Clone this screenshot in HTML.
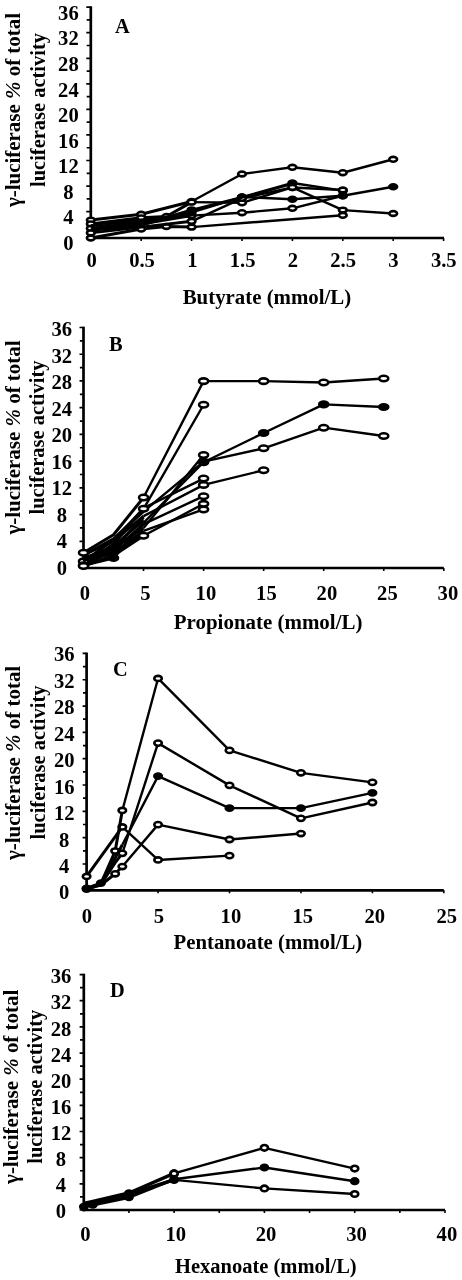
<!DOCTYPE html>
<html><head><meta charset="utf-8"><title>Figure</title>
<style>html,body{margin:0;padding:0;background:#fff}svg{display:block;filter:grayscale(1)}text{font-family:'Liberation Serif',serif;font-weight:bold;fill:#000}</style>
</head><body>
<svg width="462" height="1280" viewBox="0 0 462 1280">
<rect width="462" height="1280" fill="#fff"/>
<g id="panelA">
<path d="M90.8 6.31V239.35" stroke="#000" stroke-width="2.7" fill="none"/>
<path d="M89.45 238H444" stroke="#000" stroke-width="2.7" fill="none"/>
<path d="M86.3 237.2H90.8M86.7 224.42H90.8M86.3 211.64H90.8M86.7 198.86H90.8M86.3 186.08H90.8M86.7 173.3H90.8M86.3 160.52H90.8M86.7 147.74H90.8M86.3 134.96H90.8M86.7 122.18H90.8M86.3 109.4H90.8M86.7 96.62H90.8M86.3 83.84H90.8M86.7 71.06H90.8M86.3 58.28H90.8M86.7 45.5H90.8M86.3 32.72H90.8M86.7 19.94H90.8M86.3 7.16H90.8" stroke="#000" stroke-width="1.7" fill="none"/>
<path d="M141.2 238V240.9M191.6 238V240.9M242 238V240.9M292.4 238V240.9M342.8 238V240.9M393.2 238V240.9M443.6 238V240.9" stroke="#000" stroke-width="1.6" fill="none"/>
<text x="68.4" y="249.8" text-anchor="middle" font-size="20.6">0</text>
<text x="68.4" y="224.26" text-anchor="middle" font-size="20.6">4</text>
<text x="68.4" y="198.71" text-anchor="middle" font-size="20.6">8</text>
<text x="68.4" y="173.17" text-anchor="middle" font-size="20.6">12</text>
<text x="68.4" y="147.62" text-anchor="middle" font-size="20.6">16</text>
<text x="68.4" y="122.08" text-anchor="middle" font-size="20.6">20</text>
<text x="68.4" y="96.54" text-anchor="middle" font-size="20.6">24</text>
<text x="68.4" y="70.99" text-anchor="middle" font-size="20.6">28</text>
<text x="68.4" y="45.45" text-anchor="middle" font-size="20.6">32</text>
<text x="68.4" y="19.9" text-anchor="middle" font-size="20.6">36</text>
<text x="91.7" y="266.8" text-anchor="middle" font-size="20.6">0</text>
<text x="142" y="266.8" text-anchor="middle" font-size="20.6">0.5</text>
<text x="192.3" y="266.8" text-anchor="middle" font-size="20.6">1</text>
<text x="242.6" y="266.8" text-anchor="middle" font-size="20.6">1.5</text>
<text x="292.9" y="266.8" text-anchor="middle" font-size="20.6">2</text>
<text x="343.2" y="266.8" text-anchor="middle" font-size="20.6">2.5</text>
<text x="393.5" y="266.8" text-anchor="middle" font-size="20.6">3</text>
<text x="443.8" y="266.8" text-anchor="middle" font-size="20.6">3.5</text>
<text x="115" y="32.5" font-size="20.4">A</text>
<text x="182.7" y="303.8" font-size="20.8" textLength="168.5" lengthAdjust="spacingAndGlyphs">Butyrate (mmol/L)</text>
<text transform="translate(19.7 207.1) rotate(-90)" font-size="20.4" textLength="194.2" lengthAdjust="spacingAndGlyphs">γ-luciferase <tspan font-style="italic">%</tspan> of total</text>
<text transform="translate(45.2 187.0) rotate(-90)" font-size="20.4" textLength="154" lengthAdjust="spacingAndGlyphs">luciferase activity</text>
<path d="M90.8 220.08L141.2 214.32L191.6 201.52" stroke="#000" stroke-width="3.0" fill="none" stroke-linejoin="round"/>
<path d="M191.6 201.52L242 174L292.4 167.28L342.8 172.72L393.2 159.28" stroke="#000" stroke-width="2.4" fill="none" stroke-linejoin="round"/>
<ellipse cx="90.8" cy="220.08" rx="3.9" ry="2.4" fill="#fff" stroke="#000" stroke-width="2.6"/>
<ellipse cx="141.2" cy="214.32" rx="3.9" ry="2.4" fill="#fff" stroke="#000" stroke-width="2.6"/>
<ellipse cx="191.6" cy="201.52" rx="3.9" ry="2.4" fill="#fff" stroke="#000" stroke-width="2.6"/>
<ellipse cx="242" cy="174" rx="3.9" ry="2.4" fill="#fff" stroke="#000" stroke-width="2.6"/>
<ellipse cx="292.4" cy="167.28" rx="3.9" ry="2.4" fill="#fff" stroke="#000" stroke-width="2.6"/>
<ellipse cx="342.8" cy="172.72" rx="3.9" ry="2.4" fill="#fff" stroke="#000" stroke-width="2.6"/>
<ellipse cx="393.2" cy="159.28" rx="3.9" ry="2.4" fill="#fff" stroke="#000" stroke-width="2.6"/>
<path d="M90.8 223.92L141.2 217.84L166.4 216.56L191.6 202.16" stroke="#000" stroke-width="3.0" fill="none" stroke-linejoin="round"/>
<path d="M191.6 202.16L242 202.8L292.4 187.44L342.8 210.1L393.2 213.49" stroke="#000" stroke-width="2.4" fill="none" stroke-linejoin="round"/>
<ellipse cx="90.8" cy="223.92" rx="3.9" ry="2.4" fill="#fff" stroke="#000" stroke-width="2.6"/>
<ellipse cx="141.2" cy="217.84" rx="3.9" ry="2.4" fill="#fff" stroke="#000" stroke-width="2.6"/>
<ellipse cx="166.4" cy="216.56" rx="3.9" ry="2.4" fill="#fff" stroke="#000" stroke-width="2.6"/>
<ellipse cx="191.6" cy="202.16" rx="3.9" ry="2.4" fill="#fff" stroke="#000" stroke-width="2.6"/>
<ellipse cx="242" cy="202.8" rx="3.9" ry="2.4" fill="#fff" stroke="#000" stroke-width="2.6"/>
<ellipse cx="292.4" cy="187.44" rx="3.9" ry="2.4" fill="#fff" stroke="#000" stroke-width="2.6"/>
<ellipse cx="342.8" cy="210.1" rx="3.9" ry="2.4" fill="#fff" stroke="#000" stroke-width="2.6"/>
<ellipse cx="393.2" cy="213.49" rx="3.9" ry="2.4" fill="#fff" stroke="#000" stroke-width="2.6"/>
<path d="M90.8 228.4L141.2 223.92L191.6 215.6" stroke="#000" stroke-width="3.0" fill="none" stroke-linejoin="round"/>
<path d="M191.6 215.6L242 212.72L292.4 208.3L342.8 195.76" stroke="#000" stroke-width="2.4" fill="none" stroke-linejoin="round"/>
<ellipse cx="90.8" cy="228.4" rx="3.9" ry="2.4" fill="#fff" stroke="#000" stroke-width="2.6"/>
<ellipse cx="191.6" cy="215.6" rx="3.9" ry="2.4" fill="#fff" stroke="#000" stroke-width="2.6"/>
<ellipse cx="242" cy="212.72" rx="3.9" ry="2.4" fill="#fff" stroke="#000" stroke-width="2.6"/>
<ellipse cx="292.4" cy="208.3" rx="3.9" ry="2.4" fill="#fff" stroke="#000" stroke-width="2.6"/>
<ellipse cx="342.8" cy="195.76" rx="3.9" ry="2.4" fill="#fff" stroke="#000" stroke-width="2.6"/>
<path d="M90.8 238L141.2 229.04L166.4 226.48L191.6 227.12" stroke="#000" stroke-width="3.0" fill="none" stroke-linejoin="round"/>
<path d="M191.6 227.12L342.8 215.28" stroke="#000" stroke-width="2.4" fill="none" stroke-linejoin="round"/>
<ellipse cx="90.8" cy="238" rx="3.9" ry="2.4" fill="#fff" stroke="#000" stroke-width="2.6"/>
<ellipse cx="141.2" cy="229.04" rx="3.9" ry="2.4" fill="#fff" stroke="#000" stroke-width="2.6"/>
<ellipse cx="166.4" cy="226.48" rx="3.9" ry="2.4" fill="#fff" stroke="#000" stroke-width="2.6"/>
<ellipse cx="191.6" cy="227.12" rx="3.9" ry="2.4" fill="#fff" stroke="#000" stroke-width="2.6"/>
<ellipse cx="342.8" cy="215.28" rx="3.9" ry="2.4" fill="#fff" stroke="#000" stroke-width="2.6"/>
<path d="M90.8 228.4L141.2 222L191.6 212.4" stroke="#000" stroke-width="3.0" fill="none" stroke-linejoin="round"/>
<path d="M191.6 212.4L242 197.04L292.4 182.96L342.8 190.64" stroke="#000" stroke-width="2.4" fill="none" stroke-linejoin="round"/>
<ellipse cx="191.6" cy="212.4" rx="3.9" ry="2.4" fill="#000" stroke="#000" stroke-width="2.6"/>
<ellipse cx="242" cy="197.04" rx="3.9" ry="2.4" fill="#000" stroke="#000" stroke-width="2.6"/>
<ellipse cx="292.4" cy="182.96" rx="3.9" ry="2.4" fill="#000" stroke="#000" stroke-width="2.6"/>
<ellipse cx="342.8" cy="190.64" rx="3.9" ry="2.4" fill="#000" stroke="#000" stroke-width="2.6"/>
<path d="M90.8 230.32L141.2 225.2L191.6 209.84" stroke="#000" stroke-width="3.0" fill="none" stroke-linejoin="round"/>
<path d="M191.6 209.84L242 197.04L292.4 199.22L342.8 195.76L393.2 186.8" stroke="#000" stroke-width="2.4" fill="none" stroke-linejoin="round"/>
<ellipse cx="191.6" cy="209.84" rx="3.9" ry="2.4" fill="#000" stroke="#000" stroke-width="2.6"/>
<ellipse cx="242" cy="197.04" rx="3.9" ry="2.4" fill="#000" stroke="#000" stroke-width="2.6"/>
<ellipse cx="292.4" cy="199.22" rx="3.9" ry="2.4" fill="#000" stroke="#000" stroke-width="2.6"/>
<ellipse cx="342.8" cy="195.76" rx="3.9" ry="2.4" fill="#000" stroke="#000" stroke-width="2.6"/>
<ellipse cx="393.2" cy="186.8" rx="3.9" ry="2.4" fill="#000" stroke="#000" stroke-width="2.6"/>
<path d="M90.8 232.88L141.2 227.12L191.6 221.36" stroke="#000" stroke-width="3.0" fill="none" stroke-linejoin="round"/>
<path d="M191.6 221.36L242 198.32L292.4 187.44L342.8 190" stroke="#000" stroke-width="2.4" fill="none" stroke-linejoin="round"/>
<ellipse cx="90.8" cy="232.88" rx="3.9" ry="2.4" fill="#fff" stroke="#000" stroke-width="2.6"/>
<ellipse cx="191.6" cy="221.36" rx="3.9" ry="2.4" fill="#fff" stroke="#000" stroke-width="2.6"/>
<ellipse cx="242" cy="198.32" rx="3.9" ry="2.4" fill="#fff" stroke="#000" stroke-width="2.6"/>
<ellipse cx="292.4" cy="187.44" rx="3.9" ry="2.4" fill="#fff" stroke="#000" stroke-width="2.6"/>
<ellipse cx="342.8" cy="190" rx="3.9" ry="2.4" fill="#fff" stroke="#000" stroke-width="2.6"/>
<path d="M90.8 225.84L141.2 220.08L166.4 218.8L191.6 214.96" stroke="#000" stroke-width="3.0" fill="none" stroke-linejoin="round"/>
<path d="M191.6 211.12" stroke="#000" stroke-width="3.0" fill="none" stroke-linejoin="round"/>
<path d="M191.6 211.12L242 197.68L292.4 183.92" stroke="#000" stroke-width="2.4" fill="none" stroke-linejoin="round"/>
</g>
<g id="panelB">
<path d="M83.5 326.67V569.35" stroke="#000" stroke-width="2.7" fill="none"/>
<path d="M82.15 568H443.8" stroke="#000" stroke-width="2.7" fill="none"/>
<path d="M79.5 568H83.5M79.9 554.64H83.5M79.5 541.28H83.5M79.9 527.92H83.5M79.5 514.56H83.5M79.9 501.2H83.5M79.5 487.84H83.5M79.9 474.48H83.5M79.5 461.12H83.5M79.9 447.76H83.5M79.5 434.4H83.5M79.9 421.04H83.5M79.5 407.68H83.5M79.9 394.32H83.5M79.5 380.96H83.5M79.9 367.6H83.5M79.5 354.24H83.5M79.9 340.88H83.5M79.5 327.52H83.5" stroke="#000" stroke-width="1.7" fill="none"/>
<path d="M143.55 568V570.9M203.6 568V570.9M263.65 568V570.9M323.7 568V570.9M383.75 568V570.9M443.8 568V570.9" stroke="#000" stroke-width="1.6" fill="none"/>
<text x="61.8" y="575" text-anchor="middle" font-size="20.6">0</text>
<text x="61.8" y="548.44" text-anchor="middle" font-size="20.6">4</text>
<text x="61.8" y="521.88" text-anchor="middle" font-size="20.6">8</text>
<text x="61.8" y="495.32" text-anchor="middle" font-size="20.6">12</text>
<text x="61.8" y="468.76" text-anchor="middle" font-size="20.6">16</text>
<text x="61.8" y="442.2" text-anchor="middle" font-size="20.6">20</text>
<text x="61.8" y="415.64" text-anchor="middle" font-size="20.6">24</text>
<text x="61.8" y="389.08" text-anchor="middle" font-size="20.6">28</text>
<text x="61.8" y="362.52" text-anchor="middle" font-size="20.6">32</text>
<text x="61.8" y="335.96" text-anchor="middle" font-size="20.6">36</text>
<text x="84.9" y="599.8" text-anchor="middle" font-size="20.6">0</text>
<text x="145.4" y="599.8" text-anchor="middle" font-size="20.6">5</text>
<text x="205.9" y="599.8" text-anchor="middle" font-size="20.6">10</text>
<text x="266.4" y="599.8" text-anchor="middle" font-size="20.6">15</text>
<text x="326.9" y="599.8" text-anchor="middle" font-size="20.6">20</text>
<text x="387.4" y="599.8" text-anchor="middle" font-size="20.6">25</text>
<text x="447.9" y="599.8" text-anchor="middle" font-size="20.6">30</text>
<text x="109" y="350.7" font-size="20.4">B</text>
<text x="173.8" y="628.6" font-size="20.8" textLength="188.6" lengthAdjust="spacingAndGlyphs">Propionate (mmol/L)</text>
<text transform="translate(19.7 534.6) rotate(-90)" font-size="20.4" textLength="194.2" lengthAdjust="spacingAndGlyphs">γ-luciferase <tspan font-style="italic">%</tspan> of total</text>
<text transform="translate(44.3 514.5) rotate(-90)" font-size="20.4" textLength="154" lengthAdjust="spacingAndGlyphs">luciferase activity</text>
<path d="M83.5 558.02L113.53 548.05L143.55 528.1" stroke="#000" stroke-width="3.0" fill="none" stroke-linejoin="round"/>
<path d="M143.55 528.1L203.6 454.95" stroke="#000" stroke-width="2.4" fill="none" stroke-linejoin="round"/>
<ellipse cx="203.6" cy="454.95" rx="4.5" ry="2.75" fill="#fff" stroke="#000" stroke-width="2.6"/>
<path d="M83.5 555.37L113.53 538.74L143.55 511.48" stroke="#000" stroke-width="3.0" fill="none" stroke-linejoin="round"/>
<path d="M143.55 511.48L203.6 461.6L263.65 448.3L323.7 427.68L383.75 436" stroke="#000" stroke-width="2.4" fill="none" stroke-linejoin="round"/>
<ellipse cx="203.6" cy="461.6" rx="4.5" ry="2.75" fill="#fff" stroke="#000" stroke-width="2.6"/>
<ellipse cx="263.65" cy="448.3" rx="4.5" ry="2.75" fill="#fff" stroke="#000" stroke-width="2.6"/>
<ellipse cx="323.7" cy="427.68" rx="4.5" ry="2.75" fill="#fff" stroke="#000" stroke-width="2.6"/>
<ellipse cx="383.75" cy="436" rx="4.5" ry="2.75" fill="#fff" stroke="#000" stroke-width="2.6"/>
<path d="M83.5 554.7L113.53 541.4L143.55 516.13" stroke="#000" stroke-width="3.0" fill="none" stroke-linejoin="round"/>
<path d="M143.55 516.13L203.6 484.88L263.65 470.25" stroke="#000" stroke-width="2.4" fill="none" stroke-linejoin="round"/>
<ellipse cx="203.6" cy="484.88" rx="4.5" ry="2.75" fill="#fff" stroke="#000" stroke-width="2.6"/>
<ellipse cx="263.65" cy="470.25" rx="4.5" ry="2.75" fill="#fff" stroke="#000" stroke-width="2.6"/>
<path d="M83.5 564.01L113.53 544.06L143.55 508.15" stroke="#000" stroke-width="3.0" fill="none" stroke-linejoin="round"/>
<path d="M143.55 508.15L203.6 478.56" stroke="#000" stroke-width="2.4" fill="none" stroke-linejoin="round"/>
<ellipse cx="203.6" cy="478.56" rx="4.5" ry="2.75" fill="#fff" stroke="#000" stroke-width="2.6"/>
<path d="M83.5 564.67L113.53 550.71L143.55 524.11" stroke="#000" stroke-width="3.0" fill="none" stroke-linejoin="round"/>
<path d="M143.55 524.11L203.6 496.18" stroke="#000" stroke-width="2.4" fill="none" stroke-linejoin="round"/>
<ellipse cx="203.6" cy="496.18" rx="4.5" ry="2.75" fill="#fff" stroke="#000" stroke-width="2.6"/>
<path d="M83.5 561.35L113.53 553.37L143.55 530.76" stroke="#000" stroke-width="3.0" fill="none" stroke-linejoin="round"/>
<path d="M143.55 530.76L203.6 509.48" stroke="#000" stroke-width="2.4" fill="none" stroke-linejoin="round"/>
<ellipse cx="83.5" cy="561.35" rx="4.5" ry="2.75" fill="#fff" stroke="#000" stroke-width="2.6"/>
<ellipse cx="203.6" cy="509.48" rx="4.5" ry="2.75" fill="#fff" stroke="#000" stroke-width="2.6"/>
<path d="M83.5 560.02L113.53 546.05L143.55 520.12" stroke="#000" stroke-width="3.0" fill="none" stroke-linejoin="round"/>
<path d="M83.5 566.67L113.53 548.72L143.55 517.46" stroke="#000" stroke-width="3.0" fill="none" stroke-linejoin="round"/>
<path d="M83.5 557.36L113.53 552.04L143.55 533.42" stroke="#000" stroke-width="3.0" fill="none" stroke-linejoin="round"/>
<path d="M83.5 565.34L113.53 558.02L143.55 522.78" stroke="#000" stroke-width="3.0" fill="none" stroke-linejoin="round"/>
<path d="M143.55 522.78L203.6 462.26L263.65 433L323.7 404.41L383.75 407.07" stroke="#000" stroke-width="2.4" fill="none" stroke-linejoin="round"/>
<ellipse cx="83.5" cy="565.34" rx="4.5" ry="2.75" fill="#000" stroke="#000" stroke-width="2.6"/>
<ellipse cx="113.53" cy="558.02" rx="4.5" ry="2.75" fill="#000" stroke="#000" stroke-width="2.6"/>
<ellipse cx="203.6" cy="462.26" rx="4.5" ry="2.75" fill="#000" stroke="#000" stroke-width="2.6"/>
<ellipse cx="263.65" cy="433" rx="4.5" ry="2.75" fill="#000" stroke="#000" stroke-width="2.6"/>
<ellipse cx="323.7" cy="404.41" rx="4.5" ry="2.75" fill="#000" stroke="#000" stroke-width="2.6"/>
<ellipse cx="383.75" cy="407.07" rx="4.5" ry="2.75" fill="#000" stroke="#000" stroke-width="2.6"/>
<path d="M83.5 566L113.53 555.37L143.55 535.75" stroke="#000" stroke-width="3.0" fill="none" stroke-linejoin="round"/>
<path d="M143.55 535.75L203.6 503.83" stroke="#000" stroke-width="2.4" fill="none" stroke-linejoin="round"/>
<ellipse cx="83.5" cy="566" rx="4.5" ry="2.75" fill="#fff" stroke="#000" stroke-width="2.6"/>
<ellipse cx="143.55" cy="535.75" rx="4.5" ry="2.75" fill="#fff" stroke="#000" stroke-width="2.6"/>
<ellipse cx="203.6" cy="503.83" rx="4.5" ry="2.75" fill="#fff" stroke="#000" stroke-width="2.6"/>
<path d="M83.5 561.35L113.53 540.07L143.55 508.81" stroke="#000" stroke-width="3.0" fill="none" stroke-linejoin="round"/>
<path d="M143.55 508.81L203.6 404.74" stroke="#000" stroke-width="2.4" fill="none" stroke-linejoin="round"/>
<ellipse cx="143.55" cy="508.81" rx="4.5" ry="2.75" fill="#fff" stroke="#000" stroke-width="2.6"/>
<ellipse cx="203.6" cy="404.74" rx="4.5" ry="2.75" fill="#fff" stroke="#000" stroke-width="2.6"/>
<path d="M83.5 552.71L113.53 534.75L143.55 497.51" stroke="#000" stroke-width="3.0" fill="none" stroke-linejoin="round"/>
<path d="M143.55 497.51L203.6 381.13L263.65 381.13L323.7 382.47L383.75 378.48" stroke="#000" stroke-width="2.4" fill="none" stroke-linejoin="round"/>
<ellipse cx="83.5" cy="552.71" rx="4.5" ry="2.75" fill="#fff" stroke="#000" stroke-width="2.6"/>
<ellipse cx="143.55" cy="497.51" rx="4.5" ry="2.75" fill="#fff" stroke="#000" stroke-width="2.6"/>
<ellipse cx="203.6" cy="381.13" rx="4.5" ry="2.75" fill="#fff" stroke="#000" stroke-width="2.6"/>
<ellipse cx="263.65" cy="381.13" rx="4.5" ry="2.75" fill="#fff" stroke="#000" stroke-width="2.6"/>
<ellipse cx="323.7" cy="382.47" rx="4.5" ry="2.75" fill="#fff" stroke="#000" stroke-width="2.6"/>
<ellipse cx="383.75" cy="378.48" rx="4.5" ry="2.75" fill="#fff" stroke="#000" stroke-width="2.6"/>
</g>
<g id="panelC">
<path d="M86.6 652.57V891.65" stroke="#000" stroke-width="2.7" fill="none"/>
<path d="M85.25 890.3H443.8" stroke="#000" stroke-width="2.7" fill="none"/>
<path d="M82.6 890.3H86.6M83 877.14H86.6M82.6 863.98H86.6M83 850.82H86.6M82.6 837.66H86.6M83 824.5H86.6M82.6 811.34H86.6M83 798.18H86.6M82.6 785.02H86.6M83 771.86H86.6M82.6 758.7H86.6M83 745.54H86.6M82.6 732.38H86.6M83 719.22H86.6M82.6 706.06H86.6M83 692.9H86.6M82.6 679.74H86.6M83 666.58H86.6M82.6 653.42H86.6" stroke="#000" stroke-width="1.7" fill="none"/>
<path d="M158.05 890.3V893.2M229.5 890.3V893.2M300.95 890.3V893.2M372.4 890.3V893.2M443.85 890.3V893.2" stroke="#000" stroke-width="1.6" fill="none"/>
<text x="64.2" y="899.4" text-anchor="middle" font-size="20.6">0</text>
<text x="64.2" y="872.96" text-anchor="middle" font-size="20.6">4</text>
<text x="64.2" y="846.52" text-anchor="middle" font-size="20.6">8</text>
<text x="64.2" y="820.08" text-anchor="middle" font-size="20.6">12</text>
<text x="64.2" y="793.64" text-anchor="middle" font-size="20.6">16</text>
<text x="64.2" y="767.2" text-anchor="middle" font-size="20.6">20</text>
<text x="64.2" y="740.76" text-anchor="middle" font-size="20.6">24</text>
<text x="64.2" y="714.32" text-anchor="middle" font-size="20.6">28</text>
<text x="64.2" y="687.88" text-anchor="middle" font-size="20.6">32</text>
<text x="64.2" y="661.44" text-anchor="middle" font-size="20.6">36</text>
<text x="87" y="923" text-anchor="middle" font-size="20.6">0</text>
<text x="158.95" y="923" text-anchor="middle" font-size="20.6">5</text>
<text x="230.9" y="923" text-anchor="middle" font-size="20.6">10</text>
<text x="302.85" y="923" text-anchor="middle" font-size="20.6">15</text>
<text x="374.8" y="923" text-anchor="middle" font-size="20.6">20</text>
<text x="446.75" y="923" text-anchor="middle" font-size="20.6">25</text>
<text x="113" y="676" font-size="20.4">C</text>
<text x="173.6" y="949.3" font-size="20.8" textLength="188.6" lengthAdjust="spacingAndGlyphs">Pentanoate (mmol/L)</text>
<text transform="translate(20.1 860) rotate(-90)" font-size="20.4" textLength="194.2" lengthAdjust="spacingAndGlyphs">γ-luciferase <tspan font-style="italic">%</tspan> of total</text>
<text transform="translate(44.8 839.5) rotate(-90)" font-size="20.4" textLength="154" lengthAdjust="spacingAndGlyphs">luciferase activity</text>
<path d="M86.6 876.44L122.32 826.94" stroke="#000" stroke-width="3.0" fill="none" stroke-linejoin="round"/>
<path d="M122.32 826.94L158.05 859.94L229.5 855.65" stroke="#000" stroke-width="2.4" fill="none" stroke-linejoin="round"/>
<ellipse cx="86.6" cy="876.44" rx="3.75" ry="2.6" fill="#fff" stroke="#000" stroke-width="2.6"/>
<ellipse cx="122.32" cy="826.94" rx="3.75" ry="2.6" fill="#fff" stroke="#000" stroke-width="2.6"/>
<ellipse cx="158.05" cy="859.94" rx="3.75" ry="2.6" fill="#fff" stroke="#000" stroke-width="2.6"/>
<ellipse cx="229.5" cy="855.65" rx="3.75" ry="2.6" fill="#fff" stroke="#000" stroke-width="2.6"/>
<path d="M86.6 888.98L100.89 885.02L115.18 873.8L122.32 866.54" stroke="#000" stroke-width="3.0" fill="none" stroke-linejoin="round"/>
<path d="M122.32 866.54L158.05 824.63L229.5 839.48L300.95 833.54" stroke="#000" stroke-width="2.4" fill="none" stroke-linejoin="round"/>
<ellipse cx="86.6" cy="888.98" rx="3.75" ry="2.6" fill="#fff" stroke="#000" stroke-width="2.6"/>
<ellipse cx="115.18" cy="873.8" rx="3.75" ry="2.6" fill="#fff" stroke="#000" stroke-width="2.6"/>
<ellipse cx="122.32" cy="866.54" rx="3.75" ry="2.6" fill="#fff" stroke="#000" stroke-width="2.6"/>
<ellipse cx="158.05" cy="824.63" rx="3.75" ry="2.6" fill="#fff" stroke="#000" stroke-width="2.6"/>
<ellipse cx="229.5" cy="839.48" rx="3.75" ry="2.6" fill="#fff" stroke="#000" stroke-width="2.6"/>
<ellipse cx="300.95" cy="833.54" rx="3.75" ry="2.6" fill="#fff" stroke="#000" stroke-width="2.6"/>
<path d="M86.6 888.98L100.89 884.36L115.18 862.58L122.32 853.34" stroke="#000" stroke-width="3.0" fill="none" stroke-linejoin="round"/>
<path d="M122.32 853.34L158.05 743.12L229.5 785.36L300.95 818.36L372.4 802.52" stroke="#000" stroke-width="2.4" fill="none" stroke-linejoin="round"/>
<ellipse cx="122.32" cy="853.34" rx="3.75" ry="2.6" fill="#fff" stroke="#000" stroke-width="2.6"/>
<ellipse cx="158.05" cy="743.12" rx="3.75" ry="2.6" fill="#fff" stroke="#000" stroke-width="2.6"/>
<ellipse cx="229.5" cy="785.36" rx="3.75" ry="2.6" fill="#fff" stroke="#000" stroke-width="2.6"/>
<ellipse cx="300.95" cy="818.36" rx="3.75" ry="2.6" fill="#fff" stroke="#000" stroke-width="2.6"/>
<ellipse cx="372.4" cy="802.52" rx="3.75" ry="2.6" fill="#fff" stroke="#000" stroke-width="2.6"/>
<path d="M86.6 888.32L100.89 883.7L115.18 851.03L122.32 810.44" stroke="#000" stroke-width="3.0" fill="none" stroke-linejoin="round"/>
<path d="M122.32 810.44L158.05 678.44L229.5 750.38L300.95 772.82L372.4 782.39" stroke="#000" stroke-width="2.4" fill="none" stroke-linejoin="round"/>
<ellipse cx="115.18" cy="851.03" rx="3.75" ry="2.6" fill="#fff" stroke="#000" stroke-width="2.6"/>
<ellipse cx="122.32" cy="810.44" rx="3.75" ry="2.6" fill="#fff" stroke="#000" stroke-width="2.6"/>
<ellipse cx="158.05" cy="678.44" rx="3.75" ry="2.6" fill="#fff" stroke="#000" stroke-width="2.6"/>
<ellipse cx="229.5" cy="750.38" rx="3.75" ry="2.6" fill="#fff" stroke="#000" stroke-width="2.6"/>
<ellipse cx="300.95" cy="772.82" rx="3.75" ry="2.6" fill="#fff" stroke="#000" stroke-width="2.6"/>
<ellipse cx="372.4" cy="782.39" rx="3.75" ry="2.6" fill="#fff" stroke="#000" stroke-width="2.6"/>
<path d="M86.6 888.32L100.89 883.04L115.18 857.96L122.32 844.76" stroke="#000" stroke-width="3.0" fill="none" stroke-linejoin="round"/>
<path d="M122.32 844.76L158.05 776.12L229.5 808.13L300.95 808.13L372.4 792.95" stroke="#000" stroke-width="2.4" fill="none" stroke-linejoin="round"/>
<ellipse cx="86.6" cy="888.32" rx="3.75" ry="2.6" fill="#000" stroke="#000" stroke-width="2.6"/>
<ellipse cx="100.89" cy="883.04" rx="3.75" ry="2.6" fill="#000" stroke="#000" stroke-width="2.6"/>
<ellipse cx="158.05" cy="776.12" rx="3.75" ry="2.6" fill="#000" stroke="#000" stroke-width="2.6"/>
<ellipse cx="229.5" cy="808.13" rx="3.75" ry="2.6" fill="#000" stroke="#000" stroke-width="2.6"/>
<ellipse cx="300.95" cy="808.13" rx="3.75" ry="2.6" fill="#000" stroke="#000" stroke-width="2.6"/>
<ellipse cx="372.4" cy="792.95" rx="3.75" ry="2.6" fill="#000" stroke="#000" stroke-width="2.6"/>
</g>
<g id="panelD">
<path d="M83.8 973.71V1211.35" stroke="#000" stroke-width="2.7" fill="none"/>
<path d="M82.45 1210H445" stroke="#000" stroke-width="2.7" fill="none"/>
<path d="M79.6 1210H83.8M80 1196.92H83.8M79.6 1183.84H83.8M80 1170.76H83.8M79.6 1157.68H83.8M80 1144.6H83.8M79.6 1131.52H83.8M80 1118.44H83.8M79.6 1105.36H83.8M80 1092.28H83.8M79.6 1079.2H83.8M80 1066.12H83.8M79.6 1053.04H83.8M80 1039.96H83.8M79.6 1026.88H83.8M80 1013.8H83.8M79.6 1000.72H83.8M80 987.64H83.8M79.6 974.56H83.8" stroke="#000" stroke-width="1.7" fill="none"/>
<path d="M174.1 1210V1212.9M264.4 1210V1212.9M354.7 1210V1212.9M445 1210V1212.9M128.95 1210V1212.9M219.25 1210V1212.9M309.55 1210V1212.9M399.85 1210V1212.9" stroke="#000" stroke-width="1.6" fill="none"/>
<text x="61" y="1218.4" text-anchor="middle" font-size="20.6">0</text>
<text x="61" y="1192.28" text-anchor="middle" font-size="20.6">4</text>
<text x="61" y="1166.16" text-anchor="middle" font-size="20.6">8</text>
<text x="61" y="1140.04" text-anchor="middle" font-size="20.6">12</text>
<text x="61" y="1113.92" text-anchor="middle" font-size="20.6">16</text>
<text x="61" y="1087.8" text-anchor="middle" font-size="20.6">20</text>
<text x="61" y="1061.68" text-anchor="middle" font-size="20.6">24</text>
<text x="61" y="1035.56" text-anchor="middle" font-size="20.6">28</text>
<text x="61" y="1009.44" text-anchor="middle" font-size="20.6">32</text>
<text x="61" y="983.32" text-anchor="middle" font-size="20.6">36</text>
<text x="85.3" y="1241.4" text-anchor="middle" font-size="20.6">0</text>
<text x="175.7" y="1241.4" text-anchor="middle" font-size="20.6">10</text>
<text x="266.1" y="1241.4" text-anchor="middle" font-size="20.6">20</text>
<text x="356.5" y="1241.4" text-anchor="middle" font-size="20.6">30</text>
<text x="446.9" y="1241.4" text-anchor="middle" font-size="20.6">40</text>
<text x="110" y="996.5" font-size="20.4">D</text>
<text x="175" y="1273.0" font-size="20.8" textLength="181.7" lengthAdjust="spacingAndGlyphs">Hexanoate (mmol/L)</text>
<text transform="translate(17.5 1183.9) rotate(-90)" font-size="20.4" textLength="194.2" lengthAdjust="spacingAndGlyphs">γ-luciferase <tspan font-style="italic">%</tspan> of total</text>
<text transform="translate(41.8 1163.8) rotate(-90)" font-size="20.4" textLength="154" lengthAdjust="spacingAndGlyphs">luciferase activity</text>
<path d="M83.8 1205.42L92.83 1203.46L128.95 1193.98L174.1 1179.92" stroke="#000" stroke-width="3.4" fill="none" stroke-linejoin="round"/>
<path d="M174.1 1179.92L264.4 1188.42L354.7 1193.98" stroke="#000" stroke-width="2.4" fill="none" stroke-linejoin="round"/>
<ellipse cx="174.1" cy="1179.92" rx="3.55" ry="2.8" fill="#fff" stroke="#000" stroke-width="2.6"/>
<ellipse cx="264.4" cy="1188.42" rx="3.55" ry="2.8" fill="#fff" stroke="#000" stroke-width="2.6"/>
<ellipse cx="354.7" cy="1193.98" rx="3.55" ry="2.8" fill="#fff" stroke="#000" stroke-width="2.6"/>
<path d="M83.8 1203.46L92.83 1201.5L128.95 1193L174.1 1173.38" stroke="#000" stroke-width="3.4" fill="none" stroke-linejoin="round"/>
<path d="M174.1 1173.38L264.4 1147.87L354.7 1168.6" stroke="#000" stroke-width="2.4" fill="none" stroke-linejoin="round"/>
<ellipse cx="174.1" cy="1173.38" rx="3.55" ry="2.8" fill="#fff" stroke="#000" stroke-width="2.6"/>
<ellipse cx="264.4" cy="1147.87" rx="3.55" ry="2.8" fill="#fff" stroke="#000" stroke-width="2.6"/>
<ellipse cx="354.7" cy="1168.6" rx="3.55" ry="2.8" fill="#fff" stroke="#000" stroke-width="2.6"/>
<path d="M83.8 1206.73L92.83 1204.77L128.95 1197.25L174.1 1179.26" stroke="#000" stroke-width="3.4" fill="none" stroke-linejoin="round"/>
<path d="M174.1 1179.26L264.4 1167.49L354.7 1181.22" stroke="#000" stroke-width="2.4" fill="none" stroke-linejoin="round"/>
<ellipse cx="83.8" cy="1206.73" rx="3.55" ry="2.8" fill="#000" stroke="#000" stroke-width="2.6"/>
<ellipse cx="92.83" cy="1204.77" rx="3.55" ry="2.8" fill="#000" stroke="#000" stroke-width="2.6"/>
<ellipse cx="128.95" cy="1197.25" rx="3.55" ry="2.8" fill="#000" stroke="#000" stroke-width="2.6"/>
<ellipse cx="174.1" cy="1179.26" rx="3.55" ry="2.8" fill="#000" stroke="#000" stroke-width="2.6"/>
<ellipse cx="264.4" cy="1167.49" rx="3.55" ry="2.8" fill="#000" stroke="#000" stroke-width="2.6"/>
<ellipse cx="354.7" cy="1181.22" rx="3.55" ry="2.8" fill="#000" stroke="#000" stroke-width="2.6"/>
<path d="M174.1 1173.38" stroke="#000" stroke-width="3.4" fill="none" stroke-linejoin="round"/>
<ellipse cx="174.1" cy="1173.38" rx="3.55" ry="2.8" fill="#fff" stroke="#000" stroke-width="2.6"/>
<path d="M128.95 1193.32" stroke="#000" stroke-width="3.4" fill="none" stroke-linejoin="round"/>
<ellipse cx="128.95" cy="1193.32" rx="3.55" ry="2.8" fill="#000" stroke="#000" stroke-width="2.6"/>
</g>
</svg>
</body></html>
